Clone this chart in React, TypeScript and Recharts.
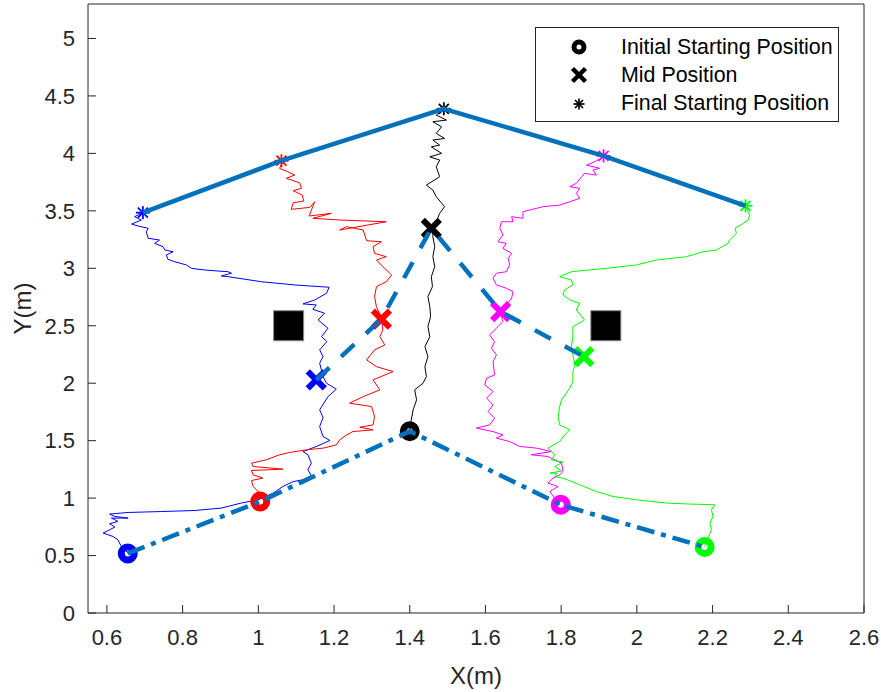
import React from "react";
import {
  ComposedChart,
  Line,
  Scatter,
  Cell,
  XAxis,
  YAxis,
  Legend,
} from "recharts";

// ---- data (metres) ----
const X_TICKS = [0.6, 0.8, 1, 1.2, 1.4, 1.6, 1.8, 2, 2.2, 2.4, 2.6];
const Y_TICKS = [0, 0.5, 1, 1.5, 2, 2.5, 3, 3.5, 4, 4.5, 5];

const LEGEND_LABELS = ["Initial Starting Position", "Mid Position", "Final Starting Position"];

// robots in order: blue, red, black, magenta, green
const initialPos = [
  { x: 0.655, y: 0.518 },
  { x: 1.005, y: 0.97 },
  { x: 1.4, y: 1.582 },
  { x: 1.799, y: 0.942 },
  { x: 2.179, y: 0.574 },
];
const midPos = [
  { x: 1.153, y: 2.029 },
  { x: 1.325, y: 2.557 },
  { x: 1.457, y: 3.348 },
  { x: 1.64, y: 2.623 },
  { x: 1.86, y: 2.231 },
];
const finalPos = [
  { x: 0.695, y: 3.484 },
  { x: 1.061, y: 3.936 },
  { x: 1.49, y: 4.388 },
  { x: 1.912, y: 3.979 },
  { x: 2.287, y: 3.544 },
];
const obstacles = [
  { x: 1.08, y: 2.5 },
  { x: 1.918, y: 2.5 },
];

const bluePath = [
  [0.656, 0.522], [0.638, 0.579], [0.629, 0.637], [0.616, 0.666], [0.59, 0.696], [0.607, 0.724],
  [0.621, 0.748], [0.607, 0.777], [0.629, 0.797], [0.612, 0.826], [0.656, 0.826], [0.621, 0.84],
  [0.607, 0.861], [0.656, 0.875], [0.744, 0.883], [0.832, 0.892], [0.902, 0.913], [0.955, 0.957],
  [0.999, 0.985], [1.039, 1.043], [1.065, 1.101], [1.092, 1.144], [1.118, 1.159], [1.14, 1.194],
  [1.131, 1.246], [1.14, 1.304], [1.131, 1.377], [1.118, 1.405], [1.153, 1.449], [1.189, 1.501],
  [1.171, 1.536], [1.162, 1.623], [1.171, 1.7], [1.162, 1.768], [1.184, 1.883], [1.206, 1.948],
  [1.18, 2.0], [1.171, 2.057], [1.162, 2.174], [1.171, 2.231], [1.162, 2.29], [1.181, 2.362],
  [1.167, 2.405], [1.184, 2.478], [1.158, 2.55], [1.175, 2.609], [1.144, 2.643], [1.153, 2.681],
  [1.118, 2.69], [1.149, 2.724], [1.18, 2.783], [1.187, 2.835], [1.096, 2.855], [1.008, 2.883],
  [0.92, 2.927], [0.902, 2.933], [0.929, 2.957], [0.92, 2.97], [0.858, 2.985], [0.823, 3.0],
  [0.81, 3.029], [0.779, 3.057], [0.761, 3.078], [0.757, 3.116], [0.775, 3.144], [0.753, 3.159],
  [0.748, 3.188], [0.726, 3.217], [0.739, 3.246], [0.709, 3.261], [0.704, 3.318], [0.709, 3.348],
  [0.682, 3.368], [0.665, 3.385], [0.691, 3.42], [0.673, 3.449], [0.695, 3.484],
];

const redPath = [
  [1.004, 0.985], [1.004, 1.043], [0.986, 1.101], [0.982, 1.153], [1.012, 1.174], [0.986, 1.203],
  [0.982, 1.24], [1.065, 1.252], [0.986, 1.275], [0.982, 1.304], [1.021, 1.333], [1.056, 1.377],
  [1.083, 1.397], [1.127, 1.42], [1.171, 1.435], [1.206, 1.463], [1.215, 1.507], [1.233, 1.55],
  [1.25, 1.579], [1.303, 1.594], [1.268, 1.617], [1.303, 1.637], [1.307, 1.71], [1.299, 1.797],
  [1.241, 1.826], [1.277, 1.883], [1.321, 1.942], [1.303, 2.029], [1.356, 2.101], [1.312, 2.144],
  [1.286, 2.203], [1.307, 2.29], [1.334, 2.333], [1.321, 2.405], [1.329, 2.463], [1.325, 2.565],
  [1.312, 2.666], [1.307, 2.753], [1.312, 2.84], [1.338, 2.883], [1.352, 2.942], [1.329, 3.014],
  [1.312, 3.072], [1.338, 3.101], [1.307, 3.13], [1.303, 3.188], [1.325, 3.231], [1.286, 3.24],
  [1.277, 3.333], [1.233, 3.362], [1.215, 3.333], [1.338, 3.405], [1.215, 3.42], [1.144, 3.435],
  [1.193, 3.478], [1.134, 3.455], [1.149, 3.579], [1.136, 3.53], [1.087, 3.513], [1.092, 3.57],
  [1.12, 3.585], [1.116, 3.637], [1.092, 3.675], [1.114, 3.696], [1.109, 3.744], [1.074, 3.783],
  [1.096, 3.811], [1.078, 3.84], [1.056, 3.87], [1.065, 3.927],
];

const blackPath = [
  [1.4, 1.577], [1.404, 1.681], [1.409, 1.768], [1.418, 1.855], [1.413, 1.942], [1.435, 2.0],
  [1.444, 2.057], [1.44, 2.144], [1.448, 2.231], [1.44, 2.318], [1.453, 2.405], [1.448, 2.492],
  [1.455, 2.579], [1.453, 2.666], [1.448, 2.753], [1.46, 2.84], [1.457, 2.927], [1.466, 3.014],
  [1.461, 3.101], [1.466, 3.188], [1.461, 3.275], [1.461, 3.333], [1.47, 3.405], [1.479, 3.478],
  [1.492, 3.536], [1.47, 3.623], [1.461, 3.681], [1.444, 3.724], [1.479, 3.797], [1.47, 3.883],
  [1.479, 3.942], [1.453, 3.97], [1.484, 4.0], [1.457, 4.057], [1.479, 4.072], [1.461, 4.116],
  [1.492, 4.13], [1.47, 4.174], [1.484, 4.231], [1.461, 4.275], [1.497, 4.29], [1.47, 4.333],
  [1.49, 4.388],
];

const magentaPath = [
  [1.796, 0.942], [1.783, 1.0], [1.77, 1.057], [1.792, 1.101], [1.765, 1.13], [1.779, 1.174],
  [1.796, 1.203], [1.805, 1.231], [1.801, 1.304], [1.765, 1.362], [1.721, 1.377], [1.774, 1.405],
  [1.735, 1.435], [1.691, 1.449], [1.664, 1.492], [1.629, 1.522], [1.646, 1.55], [1.62, 1.579],
  [1.576, 1.609], [1.611, 1.637], [1.624, 1.696], [1.607, 1.753], [1.62, 1.811], [1.603, 1.87],
  [1.62, 1.927], [1.598, 1.985], [1.603, 2.043], [1.624, 2.072], [1.62, 2.188], [1.629, 2.246],
  [1.616, 2.304], [1.624, 2.362], [1.611, 2.42], [1.633, 2.492], [1.646, 2.536], [1.638, 2.623],
  [1.655, 2.681], [1.669, 2.739], [1.673, 2.797], [1.655, 2.826], [1.629, 2.855], [1.62, 2.913],
  [1.629, 2.957], [1.655, 2.97], [1.664, 3.029], [1.66, 3.087], [1.669, 3.13], [1.646, 3.174],
  [1.655, 3.217], [1.633, 3.231], [1.646, 3.29], [1.638, 3.348], [1.642, 3.405], [1.673, 3.405],
  [1.669, 3.449], [1.699, 3.435], [1.699, 3.492], [1.752, 3.536], [1.796, 3.55], [1.823, 3.579],
  [1.849, 3.609], [1.84, 3.652], [1.849, 3.696], [1.823, 3.71], [1.84, 3.739], [1.854, 3.797],
  [1.862, 3.826], [1.893, 3.811], [1.884, 3.855], [1.902, 3.87], [1.867, 3.898], [1.889, 3.927],
  [1.911, 3.97],
];

const greenPath = [
  [2.179, 0.579], [2.188, 0.652], [2.197, 0.724], [2.193, 0.783], [2.201, 0.84], [2.197, 0.898],
  [2.206, 0.942], [2.14, 0.948], [2.078, 0.957], [1.999, 0.985], [1.937, 1.014], [1.893, 1.057],
  [1.849, 1.116], [1.805, 1.174], [1.783, 1.188], [1.788, 1.217], [1.77, 1.217], [1.801, 1.237],
  [1.783, 1.275], [1.805, 1.313], [1.774, 1.333], [1.783, 1.377], [1.765, 1.435], [1.796, 1.492],
  [1.809, 1.55], [1.823, 1.594], [1.796, 1.637], [1.792, 1.71], [1.796, 1.797], [1.801, 1.855],
  [1.823, 1.957], [1.831, 2.014], [1.831, 2.101], [1.836, 2.159], [1.827, 2.318], [1.831, 2.405],
  [1.831, 2.492], [1.862, 2.55], [1.84, 2.637], [1.849, 2.696], [1.823, 2.724], [1.805, 2.768],
  [1.809, 2.811], [1.831, 2.855], [1.827, 2.898], [1.796, 2.927], [1.827, 2.97], [1.92, 3.0],
  [1.999, 3.029], [2.052, 3.072], [2.131, 3.101], [2.175, 3.144], [2.21, 3.159], [2.241, 3.217],
  [2.245, 3.246], [2.263, 3.304], [2.259, 3.348], [2.281, 3.391], [2.294, 3.42], [2.298, 3.463],
  [2.29, 3.522], [2.287, 3.544],
];

// ---- styling ----
const FONT = '"Liberation Sans", Arial, Helvetica, sans-serif';
const AXIS = "#262626";
const LINK = "#0072BD";
const COLORS = ["#0000ff", "#ff0000", "#000000", "#ff00ff", "#00ff00"];

const toPts = (arr: number[][]) => arr.map(([x, y]) => ({ x, y }));
const paths = [bluePath, redPath, blackPath, magentaPath, greenPath].map(toPts);

const RingShape = (p: any) => (
  <circle cx={p.cx} cy={p.cy} r={6.5} fill="none" stroke={p.fill} strokeWidth={7} />
);

const CrossShape = (p: any) => (
  <g stroke={p.fill} strokeWidth={6}>
    <line x1={p.cx - 8.5} y1={p.cy - 8.5} x2={p.cx + 8.5} y2={p.cy + 8.5} />
    <line x1={p.cx - 8.5} y1={p.cy + 8.5} x2={p.cx + 8.5} y2={p.cy - 8.5} />
  </g>
);

const StarShape = (p: any) => (
  <g stroke={p.fill} strokeWidth={1.8}>
    <line x1={p.cx - 7} y1={p.cy} x2={p.cx + 7} y2={p.cy} />
    <line x1={p.cx} y1={p.cy - 6.5} x2={p.cx} y2={p.cy + 6.5} />
    <line x1={p.cx - 5} y1={p.cy - 5} x2={p.cx + 5} y2={p.cy + 5} />
    <line x1={p.cx - 5} y1={p.cy + 5} x2={p.cx + 5} y2={p.cy - 5} />
  </g>
);

const SquareShape = (p: any) => (
  <rect x={p.cx - 15} y={p.cy - 15} width={30} height={30} fill="#000" stroke="#888" strokeWidth={1} />
);

const legendIcon = (i: number) => {
  if (i === 0) return <circle cx={12} cy={12} r={5} fill="none" stroke="#000" strokeWidth={5} />;
  if (i === 1)
    return (
      <g stroke="#000" strokeWidth={4.5}>
        <line x1={5.5} y1={5.5} x2={18.5} y2={18.5} />
        <line x1={5.5} y1={18.5} x2={18.5} y2={5.5} />
      </g>
    );
  return (
    <g stroke="#000" strokeWidth={1.7}>
      <line x1={6.5} y1={12} x2={17.5} y2={12} />
      <line x1={12} y1={6.5} x2={12} y2={17.5} />
      <line x1={8} y1={8} x2={16} y2={16} />
      <line x1={8} y1={16} x2={16} y2={8} />
    </g>
  );
};

const LegendBox = () => (
  <div
    style={{
      width: 304,
      height: 95,
      boxSizing: "border-box",
      border: `1px solid ${AXIS}`,
      background: "#fff",
      paddingTop: 5,
      fontFamily: FONT,
      fontSize: 21.4,
      color: "#000",
    }}
  >
    {LEGEND_LABELS.map((label, i) => (
      <div key={label} style={{ display: "flex", alignItems: "center", height: 28.3 }}>
        <svg width={24} height={24} style={{ marginLeft: 31, marginRight: 30 }}>
          {legendIcon(i)}
        </svg>
        <span style={{ whiteSpace: "nowrap" }}>{label}</span>
      </div>
    ))}
  </div>
);

export default function App() {
  const tickStyle = { fontSize: 22, fill: AXIS, fontFamily: FONT };

  return (
    <div style={{ position: "absolute", left: 0, top: 0, background: "#fff" }}>
      <ComposedChart
        width={881}
        height={692}
        margin={{ top: 3, right: 16, bottom: 0, left: 0 }}
        style={{ fontFamily: FONT }}
      >
        <XAxis
          dataKey="x"
          type="number"
          domain={[0.55, 2.6]}
          ticks={X_TICKS}
          allowDataOverflow
          height={79}
          tickSize={-8}
          tickMargin={24}
          tick={tickStyle}
          axisLine={{ stroke: AXIS }}
          tickLine={{ stroke: AXIS }}
          label={{ value: "X(m)", position: "insideBottom", offset: 8, fontSize: 24, fill: AXIS }}
        />
        <XAxis
          xAxisId="top"
          orientation="top"
          type="number"
          domain={[0.55, 2.6]}
          ticks={X_TICKS}
          allowDataOverflow
          height={1}
          tickSize={-8}
          tick={false}
          axisLine={{ stroke: AXIS }}
          tickLine={{ stroke: AXIS }}
        />
        <YAxis
          dataKey="y"
          type="number"
          domain={[0, 5.3]}
          ticks={Y_TICKS}
          allowDataOverflow
          width={88}
          tickSize={-8}
          tickMargin={21}
          tick={tickStyle}
          axisLine={{ stroke: AXIS }}
          tickLine={{ stroke: AXIS }}
          label={{
            value: "Y(m)",
            angle: -90,
            position: "insideLeft",
            offset: 22,
            fontSize: 24,
            fill: AXIS,
            style: { textAnchor: "middle" },
          }}
        />
        <YAxis
          yAxisId="right"
          orientation="right"
          type="number"
          domain={[0, 5.3]}
          ticks={Y_TICKS}
          allowDataOverflow
          width={1}
          tickSize={-8}
          tick={false}
          axisLine={{ stroke: AXIS }}
          tickLine={{ stroke: AXIS }}
        />

        {paths.map((pts, i) => (
          <Line
            key={`path-${i}`}
            data={pts}
            dataKey="y"
            stroke={COLORS[i]}
            strokeWidth={1}
            dot={false}
            activeDot={false}
            legendType="none"
            isAnimationActive={false}
          />
        ))}

        <Scatter data={obstacles} shape={SquareShape} legendType="none" isAnimationActive={false} />

        <Scatter data={initialPos} shape={RingShape} isAnimationActive={false}>
          {initialPos.map((_, i) => (
            <Cell key={i} fill={COLORS[i]} />
          ))}
        </Scatter>
        <Scatter data={midPos} shape={CrossShape} isAnimationActive={false}>
          {midPos.map((_, i) => (
            <Cell key={i} fill={COLORS[i]} />
          ))}
        </Scatter>
        <Scatter data={finalPos} shape={StarShape} isAnimationActive={false}>
          {finalPos.map((_, i) => (
            <Cell key={i} fill={COLORS[i]} />
          ))}
        </Scatter>

        <Line
          data={initialPos}
          dataKey="y"
          stroke={LINK}
          strokeWidth={4.5}
          strokeDasharray="18 7 5 7"
          dot={false}
          activeDot={false}
          legendType="none"
          zIndex={700}
          isAnimationActive={false}
        />
        <Line
          data={midPos}
          dataKey="y"
          stroke={LINK}
          strokeWidth={4.5}
          strokeDasharray="18 16"
          dot={false}
          activeDot={false}
          legendType="none"
          zIndex={700}
          isAnimationActive={false}
        />
        <Line
          data={finalPos}
          dataKey="y"
          stroke={LINK}
          strokeWidth={4.5}
          dot={false}
          activeDot={false}
          legendType="none"
          zIndex={700}
          isAnimationActive={false}
        />

        <Legend
          layout="vertical"
          align="center"
          verticalAlign="middle"
          wrapperStyle={{ left: 535, top: 27, width: 304, height: 95 }}
          content={() => <LegendBox />}
        />
      </ComposedChart>
    </div>
  );
}
